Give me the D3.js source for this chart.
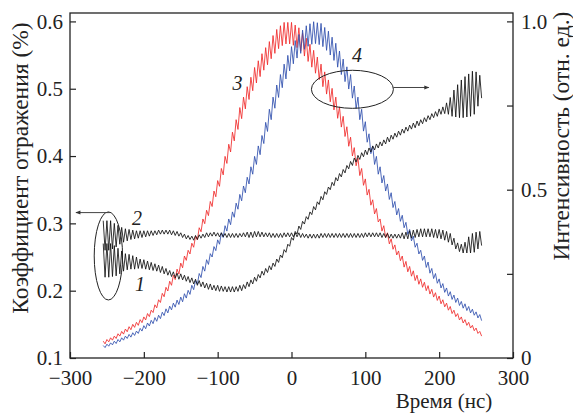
<!DOCTYPE html>
<html><head><meta charset="utf-8">
<script src="https://cdn.jsdelivr.net/npm/d3@7"></script>
<style>
body{margin:0;background:#fff}
svg{display:block}
svg text{font-family:"Liberation Serif" !important;}
</style>
</head><body><svg id="c" width="573" height="414" font-family="Liberation Serif"></svg>
<script>
// time grid of the sampled extrema (ns)
const tStart = -255, tStep = 2.5;
// curve 3 (red) – intensity, right axis
const curve3 = [.050,.042,.055,.048,.060,.053,.065,.058,.072,.065,.079,.071,.086,.078,.093,.084,.100,.091,.106,.097,.114,.105,.122,.113,.132,.123,.142,.135,.158,.149,.173,.165,.192,.182,.210,.199,.228,.216,.246,.233,.264,.249,.282,.268,.303,
.290,.320,.309,.341,.329,.362,.351,.387,.375,.413,.399,.439,.423,.465,.450,.496,.479,.527,.510,.563,.544,.599,.578,.635,.612,.671,.645,.708,.679,.744,.711,.775,.740,.806,.768,.834,.794,.863,.817,.883,.836,.904,.855,.922,.871,.940,.889,.958,.905,.976,.919,.987,.928,.997,.933,.997,.933,.997,.929,.989,.922,.981,.911,.966,.897,.950,.881,.932,.864,.914,.846,.894,.827,.873,.806,.850,.784,.826,.761,.801,.737,.775,.712,.746,.686,.718,.658,.687,.629,.656,.600,.625,.571,.594,.542,.563,.513,.532,.484,.501,.454,.470,.428,.444,.404,.413,.377,.393,.358,.372,.339,.354,.323,.336,.306,.318,.289,
.303,.270,.287,.256,.272,.243,.259,.230,.246,.219,.235,.210,.225,.200,.215,.190,.204,.181,.194,.171,.184,.161,.173,.152,.163,.142,.153,.132,.142,.123,.132,.113,.122,.104,.114,.097,.106,.089,.097,.081,.089,.073,.079,.065];
// curve 4 (blue) – intensity, right axis
const curve4 = [.037,.031,.041,.035,.045,.039,.050,.043,.055,.048,.060,.053,.065,.058,.070,.062,.075,.067,.080,.073,
.088,.080,.096,.087,.104,.095,.112,.102,.120,.109,.127,.117,.136,.126,.146,.134,.154,.143,.163,.151,
.172,.159,.181,.167,.191,.178,.201,.189,.216,.203,.230,.219,.251,.239,.272,.258,.292,.278,.310,.300,
.331,.319,.351,.338,.372,.358,.393,.377,.413,.396,.434,.418,.460,.442,.486,.467,.511,.491,.537,.517,
.568,.546,.599,.575,.630,.604,.661,.637,.700,.673,.739,.708,.775,.742,.811,.774,.842,.803,.873,.829,
.899,.853,.925,.874,.943,.891,.961,.905,.974,.917,.987,.926,.993,.932,.999,.934,.996,.931,.994,.925,
.982,.914,.971,.900,.953,.884,.935,.864,.912,.842,.888,.821,.865,.799,.842,.772,.808,.741,.775,.708,
.739,.674,.702,.641,.666,.607,.630,.575,.599,.546,.568,.520,.542,.496,.517,.471,.491,.447,.465,.425,
.444,.406,.424,.387,.403,.367,.382,.348,.362,.329,.341,.309,.320,.290,.303,.269,.285,.252,.266,.236,
.251,.222,.235,.208,.221,.195,.208,.184,.197,.174,.187,.165,.178,.156,.168,.148,.161,.141,.153,.134,
.145,.127,.137,.119,.129,.111];
// curve 1 (black) – reflectance %, left axis
const curve1 = [.270,.220,.270,.220,.270,.221,.267,.222,.263,.225,.259,.229,.255,.231,.254,.232,.252,.232,.250,.233,
.247,.233,.246,.232,.244,.231,.242,.230,.240,.229,.238,.227,.236,.225,.233,.223,.230,.221,.228,.219,
.226,.217,.225,.216,.223,.214,.221,.212,.219,.210,.217,.208,.215,.206,.213,.204,.211,.202,.210,.201,
.208,.200,.208,.199,.207,.199,.206,.198,.206,.198,.206,.198,.206,.199,.208,.200,.209,.203,.213,.206,
.216,.210,.220,.214,.224,.219,.229,.223,.233,.227,.237,.231,.241,.236,.247,.242,.253,.249,.261,.257,
.269,.266,.279,.275,.288,.284,.296,.291,.303,.299,.310,.306,.317,.313,.325,.320,.332,.328,.340,.335,
.347,.343,.354,.350,.361,.356,.368,.363,.374,.369,.380,.375,.386,.381,.392,.386,.397,.391,.401,.395,
.405,.399,.409,.402,.412,.406,.415,.409,.418,.412,.421,.415,.424,.418,.428,.421,.431,.425,.434,.428,
.437,.431,.440,.434,.443,.437,.446,.440,.449,.442,.452,.445,.454,.448,.457,.451,.460,.454,.463,.457,
.466,.459,.470,.462,.473,.463,.479,.462,.487,.459,.498,.458,.506,.457,.513,.457,.518,.458,.522,.459,
.526,.462,.525,.474,.520,.486];
// curve 2 (black) – reflectance %, left axis
const curve2 = [.304,.260,.304,.260,.304,.262,.300,.265,.297,.269,.294,.272,.292,.274,.291,.276,.290,.277,.289,.278,
.289,.279,.289,.280,.289,.281,.289,.282,.289,.283,.290,.284,.290,.284,.290,.284,.290,.283,.289,.282,
.288,.281,.286,.279,.284,.277,.282,.276,.281,.275,.282,.276,.283,.278,.284,.279,.286,.280,.286,.281,
.287,.281,.286,.280,.286,.280,.285,.279,.285,.279,.285,.279,.285,.279,.285,.280,.286,.280,.287,.279,
.287,.279,.288,.280,.288,.280,.287,.280,.286,.280,.286,.279,.285,.279,.285,.279,.285,.279,.286,.280,
.286,.280,.286,.280,.286,.280,.286,.279,.285,.279,.284,.278,.284,.278,.284,.278,.284,.278,.285,.279,
.285,.279,.285,.279,.285,.279,.285,.279,.285,.279,.285,.279,.285,.279,.285,.279,.285,.279,.285,.279,
.285,.279,.286,.280,.286,.280,.286,.280,.286,.280,.286,.279,.285,.279,.285,.278,.284,.278,.284,.278,
.284,.278,.286,.277,.287,.277,.289,.278,.290,.279,.291,.280,.292,.280,.292,.280,.292,.280,.292,.279,
.291,.278,.291,.277,.290,.275,.288,.272,.285,.268,.278,.262,.271,.258,.269,.256,.272,.256,.280,.256,
.285,.257,.287,.262,.288,.267];

const xTicks = [-300,-200,-100,0,100,200,300];
const leftTicks = [0.1,0.2,0.3,0.4,0.5,0.6];
const rightTicks = [0,0.25,0.5,0.75,1.0];
const rightLabelled = [0,0.5,1.0];
const curveLabels = [
  {text:"1", t:-212, v:0.199, axis:"L"},
  {text:"2", t:-216, v:0.298, axis:"L"},
  {text:"3", t:-80, v:0.797, axis:"R"},
  {text:"4", t:82, v:0.880, axis:"R"}
];
// annotation ellipses: centre (t, value on its axis), radii (ns, value)
const ellipses = [
  {t:-248, v:0.2516, rt:19.2, rv:0.0654, axis:"L", arrowFrom:-246, arrowTo:-292, arrowV:0.316},
  {t:82.5, v:0.7982, rt:55.5, rv:0.0565, axis:"R", arrowFrom:138, arrowTo:186, arrowV:0.8036}
];

const svg = d3.select("#c");
const FONT = "Liberation Serif";
const x = d3.scaleLinear().domain([-300,300]).range([70,513]);
const yL = d3.scaleLinear().domain([0.1,0.6125]).range([358,13]);
const yR = d3.scaleLinear().domain([0,1.0249]).range([358,13]);

function series(vals){ return vals.map((v,i)=>({t:tStart+i*tStep, v})); }
const lineL = d3.line().x(d=>x(d.t)).y(d=>yL(d.v));
const lineR = d3.line().x(d=>x(d.t)).y(d=>yR(d.v));

const plot = svg.append("g");
plot.append("path").datum(series(curve3)).attr("d",lineR).attr("fill","none").attr("stroke","#f02a2a").attr("stroke-width",0.85);
plot.append("path").datum(series(curve4)).attr("d",lineR).attr("fill","none").attr("stroke","#2f4fae").attr("stroke-width",0.85);
plot.append("path").datum(series(curve2)).attr("d",lineL).attr("fill","none").attr("stroke","#111").attr("stroke-width",0.85);
plot.append("path").datum(series(curve1)).attr("d",lineL).attr("fill","none").attr("stroke","#111").attr("stroke-width",0.85);

// frame
svg.append("rect").attr("x",x(-300)).attr("y",13).attr("width",x(300)-x(-300)).attr("height",358-13)
  .attr("fill","none").attr("stroke","#222").attr("stroke-width",1.3);

function styleAxis(g){
  g.select(".domain").remove();
  g.attr("font-family",FONT).attr("font-size",21);
  g.selectAll(".tick line").attr("stroke","#222").attr("stroke-width",1.2);
  g.selectAll(".tick text").attr("font-family",FONT).attr("font-size",21).attr("fill","#222");
}
svg.append("g").attr("transform","translate(0,358)")
  .call(d3.axisBottom(x).tickValues(xTicks).tickSizeInner(-6).tickSizeOuter(0).tickPadding(12)
    .tickFormat(d=> d<0 ? "\u2212"+Math.abs(d) : String(d)))
  .call(styleAxis);
svg.append("g").attr("transform",`translate(${x(-300)},0)`)
  .call(d3.axisLeft(yL).tickValues(leftTicks).tickSizeInner(-6).tickSizeOuter(0).tickPadding(7)
    .tickFormat(d3.format(".1f")))
  .call(styleAxis);
svg.append("g").attr("transform",`translate(${x(300)},0)`)
  .call(d3.axisRight(yR).tickValues(rightTicks).tickSizeInner(-6).tickSizeOuter(0).tickPadding(8)
    .tickFormat(d=> rightLabelled.includes(d) ? (d===0?"0":d3.format(".1f")(d)) : ""))
  .call(styleAxis);

// axis titles
svg.append("text").attr("transform","translate(28,168) rotate(-90)").attr("text-anchor","middle")
  .attr("font-family",FONT).attr("font-size",23.5).attr("fill","#222").text("Коэффициент отражения (%)");
svg.append("text").attr("transform","translate(569,136) rotate(-90)").attr("text-anchor","middle")
  .attr("font-family",FONT).attr("font-size",23.5).attr("fill","#222").text("Интенсивность (отн. ед.)");
svg.append("text").attr("x",444).attr("y",408).attr("text-anchor","middle")
  .attr("font-family",FONT).attr("font-size",21).attr("fill","#222").text("Время (нс)");

// curve labels
curveLabels.forEach(l=>{
  const yy = l.axis==="L" ? yL(l.v) : yR(l.v);
  svg.append("text").attr("x",x(l.t)).attr("y",yy).attr("font-family",FONT).attr("font-style","italic")
    .attr("font-size",20).attr("fill","#222").text(l.text);
});

// ellipses + arrows
const defs = svg.append("defs");
defs.append("marker").attr("id","ah").attr("viewBox","0 0 10 10").attr("refX",9).attr("refY",5)
  .attr("markerWidth",7).attr("markerHeight",5).attr("orient","auto").attr("markerUnits","userSpaceOnUse")
  .append("path").attr("d","M0,1 L10,5 L0,9 Z").attr("fill","#333");
ellipses.forEach(e=>{
  const ys = e.axis==="L" ? yL : yR;
  svg.append("ellipse").attr("cx",x(e.t)).attr("cy",ys(e.v))
    .attr("rx",x(e.t+e.rt)-x(e.t)).attr("ry",ys(e.v)-ys(e.v+e.rv))
    .attr("fill","none").attr("stroke","#222").attr("stroke-width",1);
  svg.append("line").attr("x1",x(e.arrowFrom)).attr("x2",x(e.arrowTo))
    .attr("y1",ys(e.arrowV)).attr("y2",ys(e.arrowV))
    .attr("stroke","#444").attr("stroke-width",1).attr("marker-end","url(#ah)");
});
</script></body></html>
